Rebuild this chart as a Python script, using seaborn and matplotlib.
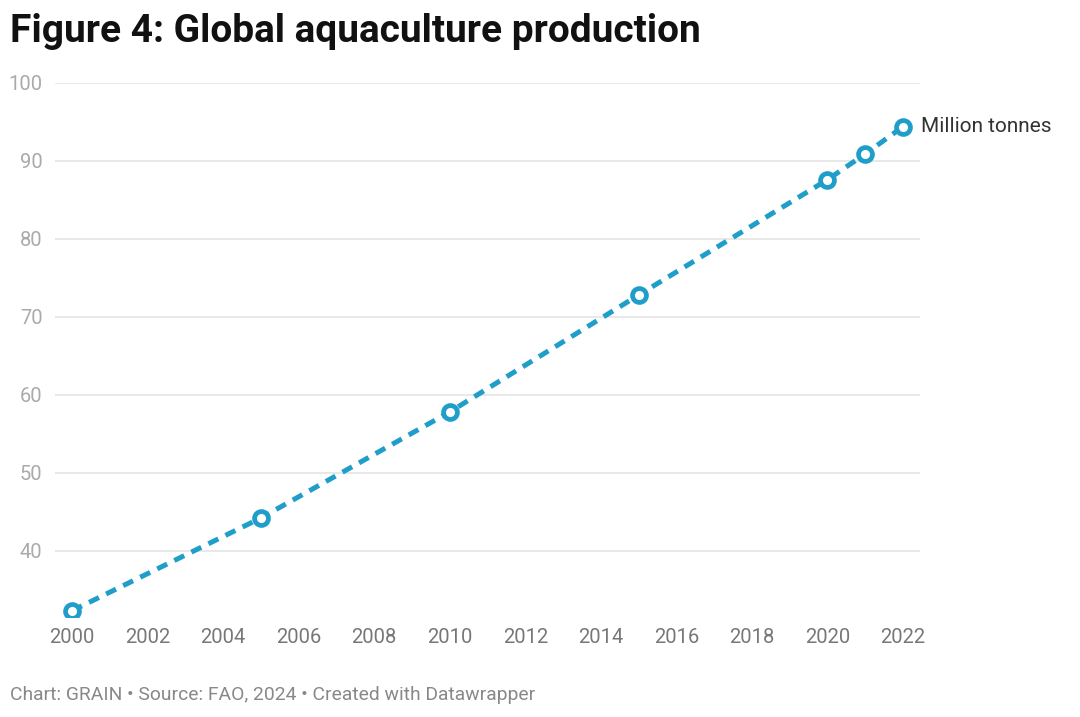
import matplotlib
matplotlib.use("Agg")
import matplotlib.pyplot as plt
import seaborn as sns
import pandas as pd

years = [2000, 2005, 2010, 2015, 2020, 2021, 2022]
production = [32.3, 44.2, 57.8, 72.8, 87.6, 90.9, 94.4]
x_ticks = list(range(2000, 2023, 2))
y_ticks = [40, 50, 60, 70, 80, 90, 100]
series_label = "Million tonnes"
title = "Figure 4: Global aquaculture production"
footer = "Chart: GRAIN \u2022 Source: FAO, 2024 \u2022 Created with Datawrapper"

sns.set_theme(style="white")
plt.rcParams['font.family'] = ['Roboto', 'DejaVu Sans']

df = pd.DataFrame({"year": years, "value": production})
color = "#1f9ec9"

fig = plt.figure(figsize=(10.8, 7.17), dpi=100)
ax = fig.add_axes([55/1080, 1 - 617/717, (920 - 55)/1080, (617 - 83)/717])

sns.lineplot(data=df, x="year", y="value", ax=ax, color=color, linewidth=3.6,
             marker="o", markersize=10, markerfacecolor="white",
             markeredgecolor=color, markeredgewidth=3.4)
ax.lines[0].set_dashes([2.2, 1.6])
ax.lines[0].set_dash_capstyle('butt')

ax.set_xlim(2000 - 17/37.77, 2022 + 17/37.77)
ax.set_ylim(31.5, 100)
ax.set_xticks(x_ticks)
ax.set_yticks(y_ticks)
ax.set_xlabel("")
ax.set_ylabel("")
for s in ax.spines.values():
    s.set_visible(False)
ax.yaxis.grid(True, color="#e2e2e2", linewidth=1.1)
ax.set_axisbelow(True)
ax.tick_params(axis='x', colors="#888888", labelsize=14.5, length=0, pad=8)
ax.tick_params(axis='y', colors="#aaaaaa", labelsize=14.5, length=0, pad=9)
for lab in ax.get_xticklabels():
    lab.set_color("#777777")
for lab in ax.get_yticklabels():
    lab.set_ha("right")

ax.text(2022 + 0.48, production[-1], series_label, fontsize=15, color="#333333",
        va="center", ha="left", clip_on=False)

fig.text(10/1080, 1 - 32/717, title, fontsize=28, fontweight="bold", color="#111111",
         va="center", ha="left")
fig.text(10/1080, 1 - 695/717, footer, fontsize=13.9, color="#888888",
         va="center", ha="left")

fig.savefig("out.png", dpi=100)
